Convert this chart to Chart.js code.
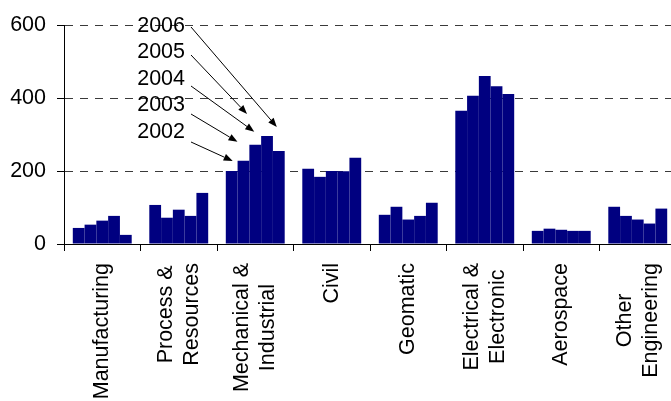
<!DOCTYPE html>
<html>
<head>
<meta charset="utf-8">
<script src="https://cdn.jsdelivr.net/npm/chart.js@4/dist/chart.umd.min.js"></script>
<style>
  html, body { margin: 0; padding: 0; background: #fff; overflow: hidden; }
  #wrap { width: 671px; height: 401px; overflow: hidden; }
  canvas { display: block; }
</style>
</head>
<body>
<div id="wrap"><canvas id="chart" width="676" height="401"></canvas></div>
<script>
// Engineering disciplines (multi-line labels drawn under the x axis)
const CATEGORIES = [
  ["Manufacturing"],
  ["Process &", "Resources"],
  ["Mechanical &", "Industrial"],
  ["Civil"],
  ["Geomatic"],
  ["Electrical &", "Electronic"],
  ["Aerospace"],
  ["Other", "Engineering"]
];
const YEARS = ["2002", "2003", "2004", "2005", "2006"];
const V2002 = [44, 107, 200, 206, 80, 365, 36, 102];
const V2003 = [53, 72, 228, 184, 102, 406, 42, 77];
const V2004 = [64, 94, 272, 200, 67, 460, 39, 67];
const V2005 = [77, 77, 296, 199, 77, 432, 36, 56];
const V2006 = [25, 140, 255, 236, 113, 411, 36, 97];
const Y_TICKS = [0, 200, 400, 600];

// Year callouts point at the bars of this category
const CALLOUT_CATEGORY = 2;
// Arrow tip offsets from each callout bar's top centre, and arrow tail heights
const ARROW_TIP_OFFSETS = [[1, -10], [-6, -19], [-1, -13], [-20, -22], [-2, -24]];
const ARROW_TAIL_Y = [142, 114, 86, 55, 27];
const CALLOUT_TEXT_Y = [132, 105.5, 79, 52.5, 26];

const FONT_SIZE = 21.5;
const FONT_FAMILY = '"Liberation Sans", Arial, sans-serif';
const FONT = FONT_SIZE + 'px ' + FONT_FAMILY;
const NAVY = '#000080';

const SERIES = [V2002, V2003, V2004, V2005, V2006];

const categoryLabels = {
  id: 'categoryLabels',
  afterDraw(chart) {
    const ctx = chart.ctx;
    const xs = chart.scales.x;
    ctx.save();
    ctx.font = FONT;
    ctx.fillStyle = '#000';
    ctx.textBaseline = 'middle';
    ctx.textAlign = 'center';
    CATEGORIES.forEach((lines, i) => {
      const cx = xs.getPixelForValue(i);
      const w = Math.max(...lines.map(l => ctx.measureText(l).width));
      ctx.save();
      ctx.translate(cx, xs.top + 19);
      ctx.rotate(-Math.PI / 2);
      lines.forEach((l, j) => {
        ctx.fillText(l, -w / 2, (j - (lines.length - 1) / 2) * 26);
      });
      ctx.restore();
    });
    ctx.restore();
  }
};

const yearCallouts = {
  id: 'yearCallouts',
  afterDraw(chart) {
    const ctx = chart.ctx;
    ctx.save();
    ctx.font = FONT;
    ctx.fillStyle = '#000';
    ctx.strokeStyle = '#000';
    ctx.lineWidth = 1;
    ctx.textAlign = 'right';
    ctx.textBaseline = 'middle';
    YEARS.forEach((yr, i) => {
      ctx.fillText(yr, 185, CALLOUT_TEXT_Y[i]);
      const bar = chart.getDatasetMeta(i).data[CALLOUT_CATEGORY];
      const tx = bar.x + ARROW_TIP_OFFSETS[i][0];
      const ty = bar.y + ARROW_TIP_OFFSETS[i][1];
      const sx = 191, sy = ARROW_TAIL_Y[i];
      const ang = Math.atan2(ty - sy, tx - sx);
      const len = 9, half = 3.5;
      const bx = tx - len * Math.cos(ang), by = ty - len * Math.sin(ang);
      ctx.beginPath();
      ctx.moveTo(sx, sy);
      ctx.lineTo(bx, by);
      ctx.stroke();
      ctx.beginPath();
      ctx.moveTo(tx, ty);
      ctx.lineTo(bx - half * Math.sin(ang), by + half * Math.cos(ang));
      ctx.lineTo(bx + half * Math.sin(ang), by - half * Math.cos(ang));
      ctx.closePath();
      ctx.fill();
    });
    ctx.restore();
  }
};

new Chart(document.getElementById('chart'), {
  type: 'bar',
  data: {
    labels: CATEGORIES.map(l => l.join(' ')),
    datasets: YEARS.map((yr, i) => ({
      label: yr,
      data: SERIES[i],
      backgroundColor: NAVY,
      borderWidth: 0,
      barPercentage: 1.0,
      categoryPercentage: 0.77
    }))
  },
  options: {
    responsive: false,
    animation: false,
    layout: { padding: { top: 25, left: 0, right: 0, bottom: 0 } },
    plugins: { legend: { display: false }, tooltip: { enabled: false } },
    scales: {
      x: {
        afterFit(scale) { scale.height = 157; },
        ticks: { display: false },
        grid: { display: true, drawOnChartArea: false, drawTicks: true, tickLength: 7, tickColor: '#000', offset: true },
        border: { display: true, color: '#000', width: 1 }
      },
      y: {
        min: 0,
        max: 600,
        afterFit(scale) { scale.width = 64; },
        afterBuildTicks(scale) { scale.ticks = Y_TICKS.map(v => ({ value: v })); },
        ticks: {
          padding: 11,
          color: '#000',
          font: { family: FONT_FAMILY, size: FONT_SIZE },
          callback: v => String(v)
        },
        grid: { color: '#3a3a3a', lineWidth: 1, tickLength: 7, tickColor: '#000', tickBorderDash: [] },
        border: { display: true, color: '#000', width: 1, dash: [8, 7] }
      }
    }
  },
  plugins: [categoryLabels, yearCallouts]
});
</script>
</body>
</html>
